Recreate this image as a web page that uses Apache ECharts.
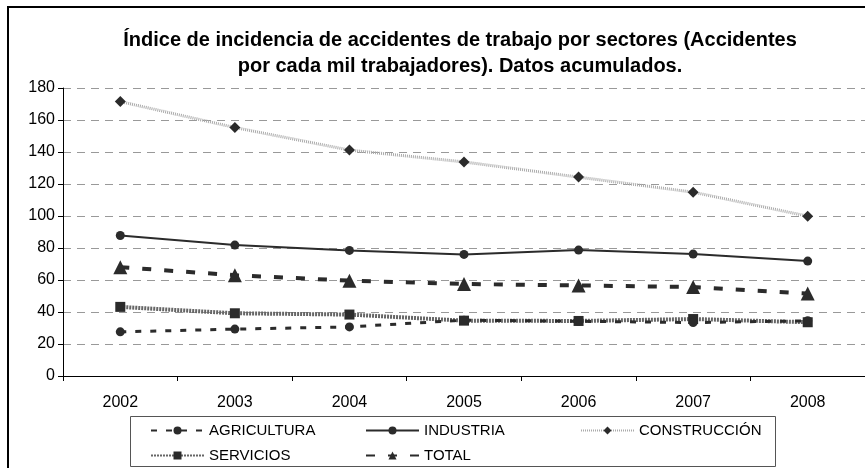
<!DOCTYPE html>
<html>
<head>
<meta charset="utf-8">
<script src="https://cdn.jsdelivr.net/npm/echarts@6/dist/echarts.min.js"></script>
<style>
  html, body { margin: 0; padding: 0; background: #fff; }
  #chart { width: 865px; height: 468px; }
</style>
</head>
<body>
<div id="chart"></div>
<script>
var years = ['2002', '2003', '2004', '2005', '2006', '2007', '2008'];
var agricultura = [27.6, 29.3, 30.7, 34.9, 34.2, 33.4, 34.5];
var industria = [87.8, 81.8, 78.5, 76.0, 78.7, 76.2, 71.8];
var construccion = [171.5, 155.3, 141.2, 133.8, 124.3, 114.9, 99.9];
var servicios = [43.2, 39.2, 38.4, 34.6, 34.4, 35.6, 33.6];
var total = [68.0, 63.0, 59.6, 57.5, 56.6, 55.6, 51.5];

var chart = echarts.init(document.getElementById('chart'));

var font = 'Liberation Sans Narrow, Arial Narrow, Liberation Sans, Arial, sans-serif';
var labelFont = 'Liberation Sans, Arial, sans-serif';

function legendAt(name, left, top) {
  return {
    data: [name],
    left: left,
    top: top,
    itemWidth: 53,
    itemHeight: 10,
    itemGap: 0,
    padding: 0,
    textStyle: { fontFamily: font, fontSize: 15, color: '#000' }
  };
}

var option = {
  animation: false,
  title: {
    text: 'Índice de incidencia de accidentes de trabajo por sectores (Accidentes\npor cada mil trabajadores). Datos acumulados.',
    left: 455,
    textAlign: 'center',
    top: 22,
    textStyle: {
      fontFamily: font,
      fontSize: 20,
      fontWeight: 'bold',
      color: '#000',
      lineHeight: 26
    }
  },
  legend: [
    legendAt('AGRICULTURA', 150, 423),
    legendAt('INDUSTRIA', 365, 423),
    legendAt('CONSTRUCCIÓN', 580, 423),
    legendAt('SERVICIOS', 150, 448),
    legendAt('TOTAL', 365, 448)
  ],
  graphic: [
    {
      type: 'rect',
      shape: { x: 8, y: 7, width: 870, height: 470 },
      style: { fill: 'none', stroke: '#000', lineWidth: 2 },
      silent: true
    },
    {
      type: 'rect',
      shape: { x: 130.5, y: 416.5, width: 645, height: 50 },
      style: { fill: 'none', stroke: '#555', lineWidth: 1 },
      silent: true
    }
  ],
  grid: {
    left: 63,
    right: 0,
    top: 88,
    bottom: 92
  },
  xAxis: {
    type: 'category',
    data: years,
    boundaryGap: true,
    axisLine: { lineStyle: { color: '#000', width: 1 } },
    axisTick: { show: true, length: 5, lineStyle: { color: '#000' } },
    axisLabel: { fontFamily: labelFont, fontSize: 16, color: '#000', margin: 19 }
  },
  yAxis: {
    type: 'value',
    min: 0,
    max: 180,
    interval: 20,
    axisLine: { show: true, lineStyle: { color: '#000', width: 1 } },
    axisTick: { show: true, length: 5, lineStyle: { color: '#000' } },
    axisLabel: { fontFamily: labelFont, fontSize: 16, color: '#000', margin: 8 },
    splitLine: { lineStyle: { color: '#999', type: [8, 6], width: 1 } }
  },
  series: [
    {
      name: 'AGRICULTURA',
      type: 'line',
      data: agricultura,
      symbol: 'circle',
      symbolSize: 9,
      itemStyle: { color: '#2b2b2b' },
      lineStyle: { color: '#2b2b2b', width: 3, type: [6, 9] },
      z: 3
    },
    {
      name: 'INDUSTRIA',
      type: 'line',
      data: industria,
      symbol: 'circle',
      symbolSize: 9,
      itemStyle: { color: '#2b2b2b' },
      lineStyle: { color: '#2b2b2b', width: 2 },
      z: 3
    },
    {
      name: 'CONSTRUCCIÓN',
      type: 'line',
      data: construccion,
      symbol: 'diamond',
      symbolSize: 11,
      itemStyle: { color: '#2b2b2b' },
      lineStyle: { color: '#aaa', width: 3, type: [1, 1] },
      z: 2
    },
    {
      name: 'SERVICIOS',
      type: 'line',
      data: servicios,
      symbol: 'rect',
      symbolSize: 10,
      itemStyle: { color: '#2b2b2b' },
      lineStyle: { color: '#666', width: 4, type: [2, 1] },
      z: 2
    },
    {
      name: 'TOTAL',
      type: 'line',
      data: total,
      symbol: 'triangle',
      symbolSize: 14,
      itemStyle: { color: '#2b2b2b' },
      lineStyle: { color: '#2b2b2b', width: 4, type: [9, 13] },
      z: 3
    }
  ]
};

chart.setOption(option);
</script>
</body>
</html>
